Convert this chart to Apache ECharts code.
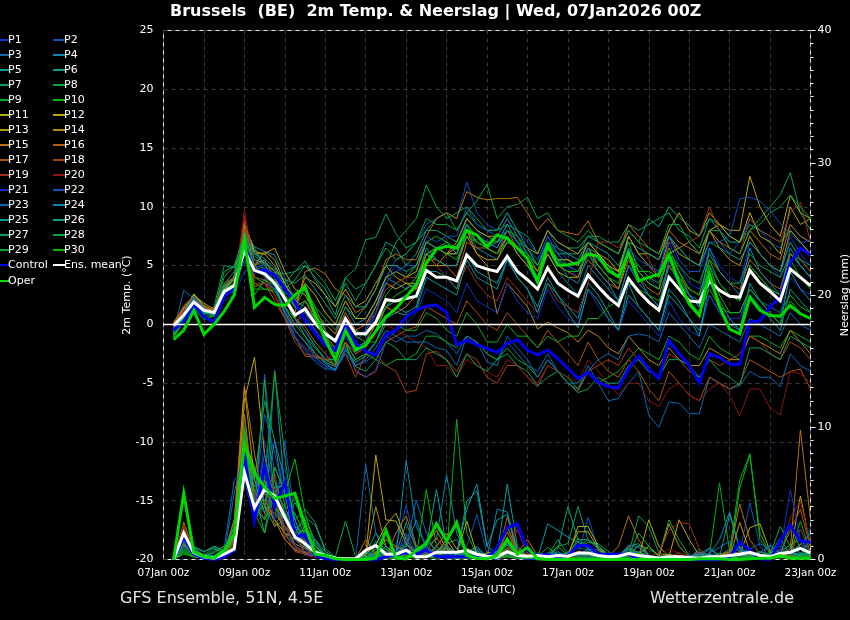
<!DOCTYPE html>
<html><head><meta charset="utf-8">
<style>html,body{margin:0;padding:0;background:#000}#c{width:850px;height:620px}</style>
<script src="https://cdn.jsdelivr.net/npm/echarts@6/dist/echarts.min.js"></script></head>
<body><div id="c"></div>
<script>
const hours=[6,12,18,24,30,36,42,48,54,60,66,72,78,84,90,96,102,108,114,120,126,132,138,144,150,156,162,168,174,180,186,192,198,204,210,216,222,228,234,240,246,252,258,264,270,276,282,288,294,300,306,312,318,324,330,336,342,348,354,360,366,372,378,384];
const dayLabels=["07Jan 00z","09Jan 00z","11Jan 00z","13Jan 00z","15Jan 00z","17Jan 00z","19Jan 00z","21Jan 00z","23Jan 00z"];
const colors=['#1030c8','#0c50c0','#0c6ab4','#0a88b0','#0a9aa0','#0aa080','#0a9f5a','#0aa540','#0aaa20','#08b808','#b0b010','#b8a80e','#b8980e','#b8880e','#b8720e','#b0620e','#b0520e','#a8401a','#a03020','#8c1414'];

const tMean=[-.1,.8,1.9,1.2,1,2.8,3.3,6.3,4.6,4.3,3.5,2.2,.8,1.3,.1,-.8,-1.4,.5,-.8,-.8,.2,2.1,2,2.2,2.4,4.6,4,4,3.7,5.9,5,4.7,4.5,5.8,4.5,3.8,3,4.8,3.5,2.9,2.4,4.2,3.2,2.3,1.6,3.9,2.8,1.9,1.2,4,3,2,1.9,3.7,2.9,2.4,2.3,4.6,3.5,2.8,2,4.7,4,3.3];
const tOper=[-1.3,-.5,1.2,-.85,0,1.1,2.5,7.2,1.45,2.3,1.7,1.6,2.5,3.2,.8,-1.3,-3,-.5,-2.2,-1.75,-.6,.65,1.35,2.35,3.35,5.2,6.4,6.65,6.5,8,7.6,6.6,7.6,7.3,6.5,5.6,3.6,6.75,5.05,5.05,5.25,6,5.8,4.6,4.05,6.1,3.7,4,4.25,5.9,3.6,1.75,.75,4.3,1.5,-.4,-.8,2.3,1.2,.75,.7,1.6,.9,.5];
const tCtrl=[-.5,.2,1.65,.65,.2,2.35,3.05,6.75,4.5,4.6,4.2,3.05,1.9,.35,-.75,-1.75,-2.2,.1,-1.6,-2.3,-2.6,-.9,-.5,.65,1.2,1.55,1.65,1,-1.75,-1.35,-1.75,-2.05,-2.4,-1.6,-1.3,-2.2,-2.6,-2.2,-2.9,-3.75,-4.6,-4.1,-4.9,-5.3,-5.4,-3.8,-2.7,-3.8,-4.6,-1.35,-2.5,-3.5,-5,-2.5,-2.8,-3.4,-3.4,.2,.3,1.5,2.3,5.2,6.5,5.9];
const tP1=[-.3,1,2.2,1,.8,3,4,7,5,4.5,3.6,2,.5,-.5,-2,-2.8,-3,-1,-2.5,-1.5,1,4,5,4,5,7,6.5,6,6,9,8,7,6.5,8.5,7,6,5,7.5,6,5,4,6.5,5,4,3,6.5,5,4,3,7,5,3.5,3,6.5,5,4,3.5,7,6,5,4,7.5,6,5];
const tP2=[-.2,.9,2,1.1,.9,2.5,3.5,6,5,4.8,3.2,1.5,0,1,-.5,-1.5,-2,0,-1.5,-.5,1.5,4,5.5,6,7,8.5,9,9.5,9,12.1,9.5,8.5,8,9.5,8,7,6,8,6.5,5.5,5,7,6,5,4,7.5,6,5,4.5,7.5,6.5,5.5,5,8,7,6,7,9,8,7,6.5,8.5,7.5,7];
const tP3=[-.6,2.9,2.2,1.3,1.1,3.2,3,5.5,4,3.8,3,1.5,-.5,-1.5,-2.8,-3.5,-3.8,-2,-3.5,-3.2,-2.5,-1,-1.5,-1,-1,-.5,-.8,-1.5,-2.5,-1,-1.5,-2.5,-3,-1.5,-2.5,-3.5,-4,-2.5,-4,-5,-5.5,-3.5,-5,-6.5,-6.3,-5,-4,-7.7,-8.75,-6.6,-6.7,-7.6,-7.6,-4.5,-5,-5.5,-5.2,-4,-4.5,-4.5,-5.3,-2.5,-3.5,-4];
const tP4=[-.4,1.2,2.5,1.5,1.2,3,3.5,7.8,6.6,6.2,5.9,4,2,1.5,.5,0,-.8,1.5,0,.5,2,4,3.5,3,3.5,6,5.5,5,5,8,6.5,6,5.5,7.5,6,5,3.5,6,4.5,3.5,2.5,5,4,3,2,5,3.5,2.5,1.5,5,3.5,2.5,2,5,3.5,2.5,2,5,4,3,2.5,6,5,4];
const tP5=[-.5,.8,1.8,1,.7,2.5,3,6.5,5.5,5,4,2.5,.5,-1,-2.5,-3.2,-3.6,-1.5,-3,-2.5,-1.5,.5,1,.8,1.2,4,3.5,3,2.5,5.5,4,3.5,3,5.5,4,3,1.5,4,2.5,1.5,.5,3.5,2.5,1,-.5,2.5,1.5,.5,-.5,2.5,1.5,.5,-.5,2.5,1,0,-.5,2.5,1.5,.5,-.5,3,2,1];
const tP6=[-.6,1,2,1.2,1,3.2,4,8.3,6.5,5,4,3.5,4.5,5,4,3,1.5,3.5,2,3.5,5,7,6.5,5,6,8,8,7.5,7,9,8,7.5,7,8.5,8,6.5,5,7,6.5,6,6,7.5,7,6.5,6,8,7,9,8.3,10,9.1,8.4,7.5,9,8,7,7,8.5,8,7.5,7,8,7,6];
const tP7=[-.8,.5,1.5,1,1.5,5,4.8,7.5,5.5,4.6,4.4,4.3,4.5,5.4,3.8,2.5,.8,4,4.7,7.2,7.4,9.4,7.7,6.5,7,8,9,9.5,8,9.5,8.5,8,8,9.5,8,7.5,6,8,7,6.5,6.5,7.5,7.5,7,7,8.5,8,8.5,9,9.5,8,7.5,6.5,9,8.5,7.5,7,8,9,10,11,12.9,9.5,8];
const tP8=[-.9,.6,1.7,1.1,1.2,4,5,7,5,4,3.5,3,2.5,3,1.5,.5,-.5,1.5,.5,1.5,3,5,7,8,9,11.85,10,9,9.5,10,9,8,8,8.5,7,6.5,5,7,5.5,5,4.5,6,5.5,5,4,6,5,4,3.5,6,5,4,3.5,6,4.5,3.5,3.5,6,5,4.5,4,6,5,4];
const tP9=[-1,.5,1.5,.8,1,3,3.5,7,4,3.5,3,1.5,0,-1,-2,-3,-3,-1.5,-3,-2.5,-3,-3.5,-3,-3,-2.5,-1,-1,-1.5,-2,-1,-1.5,-2.5,-3,-2,-3,-3.5,-4.5,-3,-4,-4.5,-5.5,-4,-5,-4.5,-4,-3,-2,-2.5,-3,-1,-1.5,-2.5,-3,-1,-2,-2.5,-3,-1,-1,-1.5,-2,-.5,-1,-1.5];
const tP10=[-1.1,.2,1.3,.4,.8,2.5,4.2,7.6,3.5,3,3,2.5,1.5,3,1.5,-.5,-1.5,.5,-.5,-1,0,2.5,3.5,4,5,7,7.5,7,6.5,8.5,7.5,7,7,8,7.5,6,4.5,7,5.5,5.5,5,6.5,6,5,4.5,7,4.5,4.5,4,6.5,4.5,2.5,1.5,5,2.5,1,1,3,2,1.5,1,2.5,1.5,1];
const tP11=[-.2,1,2.6,1.6,1.2,3,3.8,8.5,6,6,5,3.5,2,3.5,2.5,1,0,2,.5,.5,2,4,4.5,4,4.5,7,6.5,6,6,8,7,6.5,6,7.5,6,5,4,6,4.5,4,4,6.5,5,4,3,6,4.5,3.5,3,6,6.5,7,6,8,8.5,7.5,7,9.5,7.5,7,6,10,8.5,9];
const tP12=[0,1.2,2.4,1.5,1.1,2.5,3.5,8.7,6.2,6,6.5,4.5,3,2.5,1,0,-.8,1,-.5,0,1.5,3.5,3,3.5,3,6,5,5,5,7.5,6,5.5,5.5,7,6.5,5.5,4.5,6.5,5.5,5.5,5,7,6,5,4.5,7.5,6,6,5.5,8,9.5,8,7.5,9.5,8.5,8,8,12.6,10,8.5,7.5,11,9.5,9];
const tP13=[0,1.4,2.5,1.8,1.3,3.2,3.8,8.5,5,6.2,5.5,3.5,1.5,4,3.5,2.5,1.5,3,1.5,2,3.5,5,4,3.5,3.5,6,6.5,6,7,9,8,7.5,7.5,9,7.5,6.5,6,8,7,6.5,6,7,6,5.5,4.5,7.5,6,5,4,7.5,6,5.5,5,8,6.5,5.5,5,7.5,6,5,4.5,8,7,6];
const tP14=[.1,1.3,2.2,1.3,1,2.5,3,7.5,5.5,5.2,4.5,3,1.5,2,.5,-1,-2,0,-2,-1.5,0,1.5,1,1.5,2.5,5,5,6,6.5,8,6,5,.9,3.5,2.5,1.5,-.4,.2,-.3,-.7,-1.5,-.5,-1,-2,-2.5,-1,-2,-3,-3.5,-2,-3,-3.5,-3.5,-2,-2.5,-3,-3,-1,-1.5,-2,-2.5,-.5,-1.5,-2.5];
const tP15=[.2,1.5,2.3,1.4,1.2,3.3,4,8.8,5,5.5,4,2.5,1,4.5,4.8,4.3,3,2.5,1,1.5,3,5.5,6,5.5,5.5,7.5,9,9.5,9,11.3,10.8,10.6,10.7,10.7,10.8,9.5,8,9,8,7.8,7.6,8.8,7,6.5,6,8.5,7.5,6.5,6,8,7,6.5,6,8,7,6.5,6,8,7,6,5.5,8.5,7.5,7];
const tP16=[.1,1.1,1.9,1,.8,2.3,3.2,8,4.5,4.5,3.5,2,.5,-.2,-1.5,-2.5,-3.5,-1.5,-2.5,-2,-.5,1.5,2,2.5,3,5.5,5.5,5,4,7,6.5,6.5,6,8,6.5,5.5,4.5,6.5,5,4.5,4,5.5,4.5,3.5,3,5.5,4,3,2.5,5,4,3,2.5,5.5,4.5,3.5,3,5.5,4.5,3.5,3,6,5.5,4.5];
const tP17=[-.1,1.6,2.4,1.5,1.3,3.5,4,8.2,3.2,3.5,2,.5,-1,-2.7,-2.8,-3,-3.5,-1.5,-4,-4.5,-4,-1.5,-1,-.5,-.2,1.5,1,.5,0,2,1,0,-.5,1,0,-1,-2,-.5,-1.5,-2.5,-3.5,-1.5,-3,-4,-4.5,-3,-4,-5.5,-6.5,-4,-5,-6,-6.5,-4.5,-5,-5.5,-5,-3,-3.5,-4,-4.5,-4,-3.8,-5.5];
const tP18=[-.2,1,1.9,1.2,1,2.6,3.2,8.9,4,3.8,2.5,.5,-1.5,-2.5,-2.7,-2.9,-3.5,-2.5,-4.5,-2.5,-2.5,-3.5,-4,-5.8,-5.6,-2.5,-2.3,-3,-4,-2.5,-3,-4.5,-5,-3.5,-3.5,-4.5,-5.3,-3.5,-4,-5,-5.7,-4,-3.5,-3,-3.5,-2,-3,-4,-4.5,-2.5,-3,-4,-4.5,-3,-3.5,-3,-2.5,-1,-1.5,-2.5,-3,-1.5,-2,-3];
const tP19=[-.3,1.2,2.1,1.3,1,2.8,3.5,9.2,3.5,3.5,2.5,1,0,1.5,1,0,-.8,1,-.5,0,1,3,3.5,4,4,6,5,4,3,5,3.5,2.5,2,4,3,2,1,3.5,2,1.5,1,3.5,7,7,6.5,8,7,5.5,4,7,6.5,7,7.5,10,8,6.5,6,9,8,7.5,7,9.5,10.4,7];
const tP20=[-.4,1.1,2,1.2,.9,2.4,3,9.7,5,4,2.5,1,-1,-2,-2.5,-3,-2.5,.5,-1,-1.5,-1,0,-.5,-1,-1.5,-2,-3.5,-3.5,-4.5,-3,-3.5,-4,-4.5,-3,-3.5,-4.5,-5,-3.5,-4,-4.5,-5,-3,-4,-5,-6,-5,-5,-6.5,-7,-5.5,-5,-6,-6.5,-5.5,-5,-6,-7.8,-5.5,-5.5,-7.1,-7.7,-4,-4.2,-5];
const tP21=[-.5,.7,1.6,.9,.8,2,2.5,4.5,4.8,4,3,1.2,-1,-2,-3,-3.6,-4,-2,-3.8,-4.5,-3.8,-1.5,-.5,0,1,3,2.5,2,1,3.5,2,1.5,1,3.5,2,1,.5,3,1.5,.5,0,3,1.5,.5,-.5,2,1,0,-1,2,.5,-.5,-1,2.5,1,.5,.5,3,2,1.5,1,4,3,2.5];
const tP22=[-.4,.9,2,1.3,1,2.6,3.4,6.5,5.5,5,4.2,2.5,.8,1,0,-1,-1.5,.5,-1,-.5,1,3.5,4.5,5,5,7.5,7,7.5,7.5,10,8.5,8,7.5,9,7.5,6.5,5.5,7.5,6,5,4.5,6.5,5.5,4.5,4,6.5,5.5,5,4.5,7.5,5.5,4.5,4.5,7,7,7.5,10.7,10.8,10.5,9.7,8.6,7.7,6.9,7.2];
const tP23=[-.6,1,2.4,1.4,1,2.8,3.2,6.2,4.5,4.7,3.2,.8,-1.2,-2.2,-3.2,-3.8,-3.8,-2.5,-3.5,-3,-2,-.5,-1,-1.5,-1.5,-1.5,-2,-2.2,-3.5,-1,-1.5,-3.2,-3.5,-1,-2,-3,-4.5,-3,-4,-5,-5,-4,-3,-2.5,-3,-1,-.8,-1,-1.5,1,0,-1,-2,0,-.5,-1,-1.5,.5,0,-.5,-1,1,0,-.5];
const tP24=[-.5,.9,2.2,1.2,1,2.7,3.3,7.3,6,5.6,4.8,3.2,1.5,.5,-.5,-1.8,-2.5,-.5,-2,-1.5,-.5,1.5,2,2.5,3.5,6.5,5.5,5,5,8,7.5,7,6.5,8,7,5.5,4,6.5,5.5,4,3.5,6,4.5,3.5,2,5,4,2.5,1.5,5.5,4,2.5,1.5,6.5,4.5,3.5,2.5,6.5,4.5,3.5,2.5,6.5,5,4];
const tP25=[-.7,.8,1.7,1,.9,2.4,2.8,7,5.8,5.2,3.5,1,-.5,-1.5,-2.5,-3.3,-3.9,-2.2,-3.2,-2.7,-1.5,.5,1.5,1,1.5,4.5,4.5,4,3,6,4.5,4,3.5,5.5,4,3,1,3.5,2.5,1,-.3,3,2,.5,-.5,3.5,1.5,.5,-.5,3,2,.5,-1,3.5,2,.5,-.5,3.5,2,1,0,4.5,3,2];
const tP26=[-.7,1,2,1.1,1.1,3.2,3.8,7.8,6,5.3,4.6,3.8,3.5,4.2,3,1.8,.5,2.5,1.5,1.5,3,5,5,4.5,5,7,6.5,7,6,8.5,7,6.5,7,7.5,6.5,6,5,7,6,6,5.5,7,6.5,6,5,7,6.5,6,5.5,7.5,6.5,5.5,5,7,6.5,6,5.5,7,6,5,4.5,7,5.5,5];
const tP27=[-.9,.5,1.5,.9,1,3.4,4.5,7.2,4.5,4.2,3.8,2.5,.5,-.5,-1.8,-3,-3.4,-1.8,-3.6,-4,-3,-1.5,-2,-3,-3,-2,-2.5,-3,-4.5,-2.5,-3.5,-4,-3,-2.5,-3.5,-4,-5.2,-4.5,-4,-5,-5.8,-5.5,-4.5,-5,-5,-3.5,-3,-4,-4.5,-3,-3,-3.5,-4.5,-3,-4,-4.5,-5.2,-2,-2,-2.5,-3,-1,-1.5,-2];
const tP28=[-.9,.7,1.6,1,1.1,4.5,5,7.6,5,4.3,3.5,3,3.8,5,4.5,3.5,2,4,3,3.5,5,6.5,5.5,6,7,9,8.5,8.5,8,9.5,10.5,11.9,9,10,10.2,10.8,9,9.5,8,7.5,7,8,7,6.5,6,8,7,6.5,6,8.5,8.5,7,6,8,8,6.5,6,8,8.5,9.5,10,11,10,9];
const tP29=[-1,.3,1.4,.6,.9,2.5,3.2,6.8,3,3,2.8,1.5,.5,2,1,-.5,-1.5,.5,-1,-1.5,-1.5,0,0,-.5,-.5,1,.5,-.5,-1,1,0,-1.5,-1.5,0,-1,-1,-2,-1,-1.5,-1,-1,.5,.5,1.5,2,3.5,3,2.5,2,4,3,2,1,3,1.5,1,1,3,2,1,0,2,1,.5];
const tP30=[-1.1,.4,1.5,.5,.7,2.3,3.4,7.4,2.5,3.8,3.3,2.7,2.2,3,1,-1,-2.5,-.5,-2,-1.8,-.5,1.5,2.5,3,4,6,6.5,6,5.5,7.5,7,6.5,6,7,6.5,5.5,4,6.5,5,4.5,4.5,6,5,4,3.5,6,4.5,3.5,3,6,4.5,3,2.5,5.5,3.5,2.5,2,5,4,3,2.5,5.5,4,3];

const pMean=[0,2,.5,.2,.1,.4,.8,6.6,3.9,5.3,4.8,3.2,1.7,1.2,.55,.3,.1,.05,.05,.7,1.05,.4,.4,.7,.2,.2,.55,.55,.55,.7,.4,.25,.2,.6,.3,.25,.3,.2,.3,.25,.5,.5,.3,.2,.25,.45,.3,.2,.1,.2,.2,.15,.1,.2,.2,.3,.4,.55,.3,.2,.45,.55,.85,.5];
const pOper=[0,5,.55,.2,.1,.7,1.9,8.7,6.5,5.5,4.6,4.8,5,2.6,.4,.3,.05,0,0,0,.1,2.2,.1,.05,.7,1.2,2.7,1.4,2.8,.3,.1,.05,.3,1.55,.4,.9,.05,0,0,0,0,0,0,0,0,0,0,0,0,0,0,0,.05,.05,.05,0,0,.05,.1,.1,.3,.1,.1,.1];
const pCtrl=[0,1.7,.4,.1,0,.2,.7,7.9,2.9,7,4,5.8,1.7,1.9,.3,.05,0,0,0,0,0,.2,.4,.5,.4,.7,.2,.2,.2,.2,.2,.1,.9,2.4,2.7,.7,.3,.4,.2,.3,1.05,1.05,.4,.4,.4,.4,0,0,0,0,0,0,0,0,0,.2,1.3,.7,.05,0,1.4,2.6,1.4,1.3];
const pP1=[0,2,.4,.1,.2,.5,1.5,6,3,9,5,7,2,1,.5,.2,0,0,0,0,0,.2,.5,1,.5,.3,1,.5,.2,.4,.8,.2,0,.3,.1,0,0,.1,.3,.6,.2,.1,0,0,0,.1,.2,.1,0,0,.1,.3,0,0,0,.2,.5,.1,0,0,.3,.8,.2,.1];
const pP2=[0,1.6,.3,.2,.1,.4,1,7,4,6,3,9,3,1.5,.3,.1,0,0,.1,.5,.3,.1,1,4.1,1,.5,.2,.1,.3,1,3.4,.5,.1,.2,.3,.1,0,.2,.4,.1,.3,3.2,.8,.2,0,.2,.4,.1,0,.1,0,0,.1,.3,0,.3,.5,4.3,1,.2,.3,1,.2,1.5];
const pP3=[0,1.3,.8,.3,.1,.8,6,7,3,14,6,2,1,.6,.4,.2,0,0,0,7.2,2,.3,.8,1,4.5,2,.3,.1,.1,.5,1,.2,.1,.2,.4,.2,0,.3,.2,.1,.2,.4,.1,0,.1,.8,.5,.2,0,.1,0,.2,.4,.9,.3,.1,.2,.4,.1,.5,1,.4,.3,.5];
const pP4=[0,2.2,.6,.4,.2,.3,1.8,8,4,3,14.3,5,1.5,1.2,.6,.1,0,0,0,0,1,.6,.3,7.5,2.5,1,1.5,6.4,2,.4,.7,.1,3.8,3.6,.8,.2,.1,.5,.3,.1,.2,.3,.3,.1,.1,.5,.6,.3,0,.2,.1,.1,.1,.4,1.5,3.6,.8,.3,.6,.4,.2,.4,.5,.3];
const pP5=[0,1.8,.5,.2,.1,.6,2,10,5,2,5,6,3,1,1.5,.2,.1,0,0,.2,.4,1,.5,.3,.6,1,5.3,1,.5,3.8,5.7,1,.4,5.7,1,.2,.1,2.7,2.2,1.7,1.3,.9,.7,.1,.1,.7,.3,.1,0,.1,.2,.1,.8,.2,.3,.8,.3,.6,.2,.1,.3,.2,.4,1.5];
const pP6=[0,2,1,.6,.9,.4,3,9,3,4,2.5,3,4.3,3,1.5,.6,.1,0,0,.3,1.4,.8,.4,2.8,.8,.4,.6,1.2,1.5,.6,.9,.2,.2,.6,.4,.9,.2,.3,.2,.3,.9,1.5,.8,.4,.3,1,1.2,.3,.1,.2,.1,.2,.1,.2,.2,.3,1,.3,.2,.1,.2,.3,.1,.1];
const pP7=[0,1.5,.9,.3,1,.6,2.5,8,6,12,9,4,2,3.2,2.6,.8,.2,.1,0,.2,.6,.3,.2,1.5,.3,.5,.2,.8,.3,.4,.6,.2,.1,.9,.2,.1,.5,.3,1,1.2,4,1.5,1,.4,.1,.4,3.3,2.5,.5,.2,.1,.1,.2,.8,.3,.6,.2,.1,.2,.4,1.6,.3,.2,.1];
const pP8=[0,.9,.4,.2,.5,1,2,11,4,13.6,4,2,1.5,2,1,.3,.2,2.9,.2,.3,1.2,.4,.1,1.2,.4,1,.4,.5,.2,.9,.2,.1,.3,1.1,.3,.2,.1,.3,1.5,.4,.9,1.3,1.2,.6,.2,.2,1.1,.8,.3,3,1.5,.3,.1,.2,.5,.1,.1,.4,.3,.5,.6,1.1,1.5,.6];
const pP9=[0,.7,.3,.1,.3,.8,1.5,7,3,6,14.2,7.9,2,1,.3,.2,0,0,0,.1,.2,.3,.6,.4,.2,.3,.1,.2,10.6,2,.3,.2,.5,.4,.3,.1,.1,.2,.3,.5,.3,.2,.1,.1,.1,.2,.3,.1,.1,.3,.1,.2,.1,.3,5.8,.6,6,8,1.5,.5,.3,.4,2.9,.5];
const pP10=[0,.6,.2,.1,.2,.5,1.2,9,3.5,2,7,5,7.6,3.5,1,.4,.1,0,0,.2,.8,.3,.1,.5,.2,5.3,1,.3,.2,.5,.1,.1,.3,.8,.2,.1,.1,.2,1,.3,.4,.2,.1,.1,0,.1,.2,.1,.1,.2,.1,.1,.3,.1,.2,.1,5.4,7.9,2,.4,.2,.3,.4,.2];
const pP11=[0,1.2,.5,.2,.1,.4,1.8,9,7,4,3,2,1.5,.9,.4,.1,0,0,.1,.4,1.1,2.6,3.5,1.5,.5,.4,.3,.6,.5,.3,.2,.1,.2,.5,.3,.1,.1,.2,.1,.2,2.5,2.5,1,.2,.1,.5,.2,3,1,.2,3,1.5,.3,.2,.1,.1,.3,.2,.4,.2,.3,.5,.8,.2];
const pP12=[0,1.4,.6,.3,.1,.5,2,12,15.3,8,4,3,2,1,.6,.1,0,0,0,.3,7.9,3,2.9,1.2,.4,.8,.5,1.5,.4,2.9,.4,.2,.3,1.3,.6,.2,.1,.3,.2,.4,2.1,2.1,.8,.2,.1,.2,.4,1,.3,.4,.2,.1,.5,.3,.2,.2,.4,2.4,2.7,.6,.3,.4,4.8,1];
const pP13=[0,1.7,.4,.2,.2,.6,2.5,13,6,5,4,2.5,1.8,1.4,.6,.2,.1,0,0,.2,.5,1.5,1,.6,.8,.3,1,2,.8,.2,.3,.5,.6,.4,.2,.1,.2,.1,.3,.2,.4,.3,.2,.1,.4,.2,.5,.2,.2,2.7,1,.2,.1,.3,.2,.1,2.8,.6,.3,.2,.4,.2,.3,.2];
const pP14=[0,2.8,.7,.3,.1,.3,1.5,10,5,4.5,3,1.5,.7,.5,.2,.1,0,0,0,.3,4,1,.3,.2,.4,1.2,2.2,.8,.3,.4,.2,.1,.2,2.5,.6,.2,.1,.2,.1,.3,.5,.3,.2,.1,.3,.5,.2,.1,.1,.2,.3,.2,.5,.2,.1,.3,.6,.4,.2,.1,.2,.5,.3,.2];
const pP15=[0,2.5,.6,.2,.2,.5,3,13.2,8,4,3.5,2.5,1.2,.8,.3,.1,0,0,0,1.5,.4,.2,2,3.3,1,.5,.4,.9,.4,.6,.3,.2,.4,2.1,.5,1.5,.3,.2,.1,.4,.6,.5,.3,.2,1,3.3,1.5,.3,.1,.2,.1,.2,.6,.2,.3,.5,4.2,1.5,.4,.2,.3,.8,9.8,3];
const pP16=[0,1.1,.5,.3,.1,.3,2.2,11,4.5,6,2.5,4,1.8,.5,.2,.1,0,0,0,.2,.5,.4,.6,.5,.3,.6,1.7,.5,.2,.6,.3,.1,.2,3.2,.8,.2,.1,.3,.2,.2,.5,.2,.1,.1,.2,.4,.2,.1,.1,.3,.2,.1,.3,.2,.4,.6,.4,.3,.1,.2,.3,.2,1.2,.4];
const pP17=[0,2.1,.4,.2,.1,.4,1.6,9,4,7,5,1.5,.8,.5,.2,.1,0,0,0,.1,.3,.2,1,.4,.5,.4,.3,1.1,.3,.2,.2,.1,.3,.9,.3,.1,.2,.1,.2,.1,.3,.2,.1,.3,.1,1,.5,.2,.1,.2,.1,.1,.2,.1,.2,.3,.5,.2,.1,.1,.5,2.2,3.8,.9];
const pP18=[0,1.9,.3,.1,.1,.3,1.2,8,3.5,4,5.5,2,.6,.4,.2,.1,0,0,.1,.2,.3,.3,.2,.3,.2,.3,.8,.3,.2,.3,.2,.1,.2,.4,2.8,.5,.2,.1,.1,.2,.2,.1,.1,.1,.2,.4,.2,.1,.1,.2,.5,.2,.3,.2,.1,.2,.3,.1,.1,.2,.8,.3,.4,.2];
const pP19=[0,2.3,.5,.1,.2,.4,1,7,4.5,3,6.5,3,1,.6,.3,.1,0,0,0,.1,.2,.1,.2,.4,.2,.5,.3,.2,.1,.2,.1,.1,.2,.3,2.3,.4,.2,.1,.2,.1,.2,.1,.2,.1,.1,.2,.1,.2,.5,2.2,2.8,2.7,.8,.2,.1,.2,.1,.1,.2,1,.6,.3,2.3,.5];
const pP20=[0,2.6,.6,.2,.1,.3,1.1,6,5,3.5,4,2.5,.9,.3,.2,.1,0,0,0,.1,.2,.2,.1,.2,.1,.2,.1,.2,.1,.1,.2,.1,.1,.2,.3,.1,.1,.1,.1,.2,.1,.2,.1,.1,.1,.2,.1,.1,.2,.8,.5,.2,.1,.1,.2,.1,.2,.1,.1,.1,.2,3.2,4.4,1.2];
const pP21=[0,1,.3,.2,.1,.3,1,6.5,3,5.5,3,4,1.5,.8,.3,.1,0,0,0,.1,.3,2.1,.5,1.5,.4,.2,.3,.4,.3,.2,.3,.1,.1,.2,.1,.1,.1,.2,.1,.2,.3,.2,.1,.1,.1,.2,.1,.1,.1,.1,.2,.1,.1,.2,.1,.1,.2,.1,.1,.2,.5,5.3,1.5,.3];
const pP22=[0,1.5,.5,.1,.1,.4,.9,7.5,4,11,8,5,2,1.5,.5,.2,0,0,0,.2,.4,.6,.3,2,.5,1,.4,.5,.2,.6,.3,.2,.3,.6,.3,.2,.1,.3,.5,.3,.9,.7,.2,.1,.1,.2,.1,.1,.1,.2,.1,.3,.5,.3,.2,.4,.8,.5,.3,1,.6,.4,.3,2.4];
const pP23=[0,1.4,.4,.2,.1,.4,5,8.5,3.5,8,4,2.5,1,.4,.3,.1,0,0,0,.6,.3,.4,.2,.8,.6,.3,.2,.3,.1,.2,.4,.1,.1,.2,.1,.1,.1,.3,.2,.4,.3,.2,.1,.1,.1,1.1,.9,.3,.1,.2,.1,.2,.3,.8,.2,.3,.5,.8,1.2,.8,.3,.2,.3,.2];
const pP24=[0,1.2,.6,.3,.2,.5,2,9.5,3,5,9,6,2.5,1,.7,.2,.1,0,0,.1,.2,.1,.3,1,3,.8,.4,1,.5,.3,.2,.1,.6,1.2,.5,.1,.1,.3,.6,.2,1.4,.8,.3,.1,.2,.9,.3,.1,.1,.3,.2,.1,.2,.5,.9,1.4,.6,.2,.5,1.1,.4,.5,.3,.4];
const pP25=[0,1.6,.7,.2,.3,.5,2,8,5.5,6,4.5,3,2.5,2,1,.3,.1,0,0,.2,.4,.2,.1,.5,.3,.6,.3,.5,.4,4.4,5.2,1,3,3.4,.4,.2,.1,.3,.2,.5,.3,.8,.3,.1,.1,.4,.2,.1,.1,.1,.2,.1,.1,.4,.2,3.4,.8,.3,.2,.1,.2,.6,1.1,2];
const pP26=[0,1.9,.9,.6,1,.7,2.5,9,6,3.5,5.5,5.5,3,3.8,2.8,.6,.1,0,0,.4,2,1,.4,.6,.3,1.5,.7,.9,.3,.5,.3,.2,.2,.5,1,.3,.2,.3,.8,4,1.5,1.5,1,.4,.1,.5,1,.3,.2,.3,.1,.2,.4,.2,.3,.2,.3,.2,.1,.2,.4,.5,.3,.6];
const pP27=[0,1,.5,.2,.6,1,1.8,7,3.5,4,7,5,1.5,2.5,1.3,.4,.1,0,0,.2,.3,.2,.3,.5,.2,.4,.2,.3,.2,.3,.2,.1,.2,1.2,.3,.2,.1,.5,.3,.2,.4,.3,.2,.1,.1,.8,.5,.2,.1,.2,.1,.1,.2,.1,.1,.2,.1,.1,.3,.4,2.5,1,.5,.3];
const pP28=[0,.8,.4,.2,.8,.5,1.3,8.5,3,4.5,6,3.5,2,2.2,1.1,.3,.1,0,0,.1,.4,.5,.2,.3,.1,.2,.5,.2,.1,.2,.1,.1,.2,.4,.2,.1,.2,.9,.4,.3,1.6,.9,.3,.1,.1,.3,2,1,.2,.3,.1,.1,.2,.2,.1,.1,.4,.2,.6,.3,.3,2.6,.8,.3];
const pP29=[0,.5,.3,.1,.2,.4,1,10,3.5,6.5,4,3,4.8,2,.6,.2,0,0,0,.1,.2,.1,.1,.4,.1,.2,.1,.2,.1,.2,.1,.1,.1,.3,.1,.2,.1,.2,.1,.2,.2,.1,.1,.1,.1,.2,.5,.2,.1,.1,.1,.1,.1,.1,.2,.1,.2,.1,.1,.3,.2,.2,.4,.2];
const pP30=[0,.4,.2,.1,.2,.4,.9,9.5,4,3,5,4,3.5,1.8,.8,.3,.1,0,0,.1,.2,.8,.2,.2,.1,.3,.1,.2,.1,.1,.1,.1,.1,.2,.1,.1,.1,.2,.1,.1,.1,.1,.1,.1,.1,.1,.2,.1,.1,.1,.1,.1,.1,.1,.1,.2,.1,.1,.2,.1,.1,.2,.1,.1];

const tMembers=[tP1,tP2,tP3,tP4,tP5,tP6,tP7,tP8,tP9,tP10,tP11,tP12,tP13,tP14,tP15,tP16,tP17,tP18,tP19,tP20,tP21,tP22,tP23,tP24,tP25,tP26,tP27,tP28,tP29,tP30];
const pMembers=[pP1,pP2,pP3,pP4,pP5,pP6,pP7,pP8,pP9,pP10,pP11,pP12,pP13,pP14,pP15,pP16,pP17,pP18,pP19,pP20,pP21,pP22,pP23,pP24,pP25,pP26,pP27,pP28,pP29,pP30];

const zip=a=>a.map((v,i)=>[hours[i],v]);
const line=(name,arr,axis,color,width,z)=>({name,type:'line',data:zip(arr),yAxisIndex:axis,symbol:'none',showSymbol:false,silent:true,animation:false,z,lineStyle:{color,width,join:'miter'},itemStyle:{color}});
const series=[];
tMembers.forEach((a,i)=>series.push(line('P'+(i+1),a,0,colors[i%20],1,2)));
pMembers.forEach((a,i)=>series.push(line('P'+(i+1),a,1,colors[i%20],1,2)));
series.push(line('Control',tCtrl,0,'#0000f0',3,3));
series.push(line('Control',pCtrl,1,'#0000f0',3,3));
const m1=line('Ens. mean',tMean,0,'#ffffff',3,4);
m1.markLine={silent:true,symbol:'none',animation:false,label:{show:false},lineStyle:{color:'#fff',width:1.3,type:'solid'},data:[{yAxis:0}]};
series.push(m1);
series.push(line('Ens. mean',pMean,1,'#ffffff',3,4));
series.push(line('Oper',tOper,0,'#00d800',3,5));
series.push(line('Oper',pOper,1,'#00d800',3,5));

const odd=[],even=[];
for(let i=1;i<=30;i++)(i%2?odd:even).push('P'+i);
const leg=(data,left,top,gap)=>({data,left,top,orient:'vertical',padding:0,icon:'rect',itemWidth:12,itemHeight:2,itemGap:gap,selectedMode:false,textStyle:{color:'#fff',fontSize:11,fontFamily:'DejaVu Sans',lineHeight:12,padding:[0,0,0,-6]}});
const font='DejaVu Sans';
const chart=echarts.init(document.getElementById('c'),null,{renderer:'canvas'});
chart.setOption({
 backgroundColor:'#000',animation:false,
 title:[
  {text:'Brussels  (BE)  2m Temp. & Neerslag | Wed, 07Jan2026 00Z',left:170,top:4,padding:0,textStyle:{color:'#fff',fontSize:16,fontWeight:'bold',fontFamily:font}},
  {text:'GFS Ensemble, 51N, 4.5E',left:120,top:591,padding:0,textStyle:{color:'#e4e4e4',fontSize:16,fontWeight:'normal',fontFamily:font}},
  {text:'Wetterzentrale.de',left:650,top:591,padding:0,textStyle:{color:'#e4e4e4',fontSize:16,fontWeight:'normal',fontFamily:font}}
 ],
 legend:[leg(odd,-3,34,3),leg(even,53,34,3),leg(['Control','Oper'],-3,259,4),leg(['Ens. mean'],53,259,4)],
 grid:{left:163.5,top:30.5,width:647,height:529,show:true,borderColor:'#e8e8e8',borderWidth:1,backgroundColor:'#000',containLabel:false,outerBoundsMode:'none'},
 xAxis:{type:'value',min:0,max:384,interval:24,
  name:'Date (UTC)',nameLocation:'middle',nameGap:25,nameTextStyle:{color:'#fff',fontSize:10.5,fontFamily:font},
  axisLine:{show:false},axisTick:{show:false},
  splitLine:{show:true,lineStyle:{color:'#3a3a3a',type:[4,4],width:1}},
  axisLabel:{color:'#fff',fontSize:10.5,fontFamily:font,margin:8,hideOverlap:false,showMinLabel:true,showMaxLabel:true,
   formatter:v=>v%48===0?dayLabels[v/48]:''}},
 yAxis:[
  {type:'value',min:-20,max:25,interval:5,position:'left',
   name:'2m Temp. (°C)',nameLocation:'middle',nameGap:31,nameRotate:90,nameMoveOverlap:false,nameTextStyle:{color:'#fff',fontSize:11,fontFamily:font},
   axisLine:{show:false},axisTick:{show:false},
   splitLine:{show:true,lineStyle:{color:'#3a3a3a',type:[4,4],width:1}},
   axisLabel:{color:'#fff',fontSize:11,fontFamily:font,margin:10}},
  {type:'value',min:0,max:40,interval:10,position:'right',
   name:'Neerslag (mm)',nameLocation:'middle',nameGap:29.5,nameRotate:90,nameMoveOverlap:false,nameTextStyle:{color:'#fff',fontSize:11,fontFamily:font},
   axisLine:{show:false},
   axisTick:{show:true,length:5,lineStyle:{color:'#fff'}},
   minorTick:{show:true,splitNumber:10,length:3,lineStyle:{color:'#fff'}},
   splitLine:{show:false},
   axisLabel:{color:'#fff',fontSize:11,fontFamily:font,margin:7}}
 ],
 series
});
</script></body></html>
